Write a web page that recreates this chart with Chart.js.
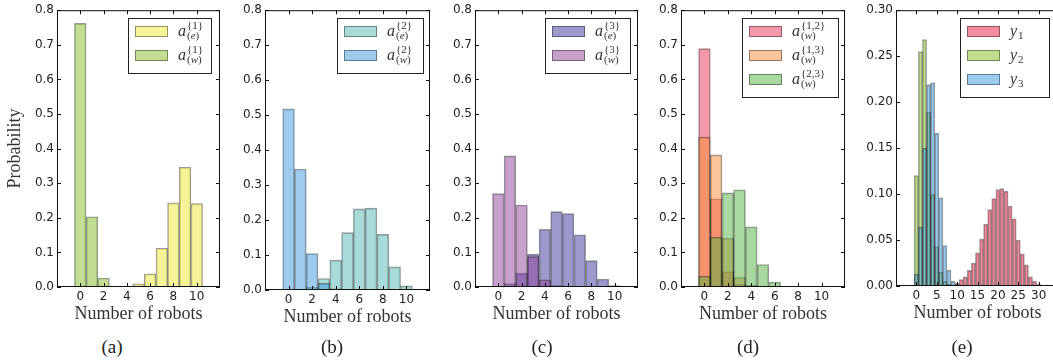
<!DOCTYPE html>
<html>
<head>
<meta charset="utf-8">
<script src="https://cdn.jsdelivr.net/npm/chart.js@4"></script>
<style>
  body { margin: 0; background: #fff; }
  #wrap { position: relative; width: 1053px; height: 364px; overflow: hidden; background: #fff; }
  .panel { position: absolute; top: 0; }
  .cap { position: absolute; top: 336px; line-height: 22px; font-family: 'Liberation Serif', serif; font-size: 19px; color: #222; transform: translateX(-50%); }
</style>
</head>
<body>
<div id="wrap"></div>
<script>
// number of robots (histogram bins)
var robots = [0, 1, 2, 3, 4, 5, 6, 7, 8, 9, 10];
var robotsE = [0, 1, 2, 3, 4, 5, 6, 7, 8, 9, 10, 11, 12, 13, 14, 15, 16, 17, 18, 19, 20,
               21, 22, 23, 24, 25, 26, 27, 28, 29, 30];

// (a)
var a1e = [0, 0, 0, 0.001, 0.002, 0.009, 0.038, 0.112, 0.243, 0.346, 0.241];
var a1w = [0.762, 0.203, 0.026, 0.003, 0.001, 0, 0, 0, 0, 0, 0];
// (b)
var a2e = [0, 0.001, 0.008, 0.033, 0.085, 0.164, 0.232, 0.234, 0.159, 0.066, 0.012];
var a2w = [0.518, 0.346, 0.104, 0.019, 0.003, 0.001, 0, 0, 0, 0, 0];
// (c)
var a3e = [0.001, 0.010, 0.040, 0.095, 0.167, 0.218, 0.212, 0.151, 0.076, 0.023, 0.004];
var a3w = [0.270, 0.379, 0.237, 0.088, 0.021, 0.004, 0, 0, 0, 0, 0];
// (d)
var a12w = [0.689, 0.255, 0.044, 0.008, 0.001, 0, 0, 0, 0, 0, 0];
var a13w = [0.433, 0.382, 0.141, 0.027, 0.005, 0.001, 0, 0, 0, 0, 0];
var a23w = [0.031, 0.144, 0.272, 0.281, 0.174, 0.065, 0.014, 0.002, 0.001, 0.001, 0.001];
// (e)
var y1 = [0, 0, 0, 0, 0, 0, 0, 0, 0, 0.001, 0.003, 0.007, 0.010, 0.017, 0.025, 0.036, 0.051,
          0.067, 0.083, 0.095, 0.105, 0.106, 0.103, 0.087, 0.073, 0.050, 0.035, 0.023, 0.010, 0.005, 0.002];
var y2 = [0.120, 0.255, 0.268, 0.189, 0.100, 0.043, 0.015, 0.005, 0.002, 0.001, 0, 0, 0, 0, 0, 0,
          0, 0, 0, 0, 0, 0, 0, 0, 0, 0, 0, 0, 0, 0, 0];
var y3 = [0.013, 0.064, 0.150, 0.219, 0.221, 0.166, 0.096, 0.044, 0.017, 0.005, 0.002, 0, 0, 0, 0, 0,
          0, 0, 0, 0, 0, 0, 0, 0, 0, 0, 0, 0, 0, 0, 0];

// tick labels
var xTicks10 = [0, 2, 4, 6, 8, 10];
var xTicks30 = [0, 5, 10, 15, 20, 25, 30];
var yTicks08 = [0, 0.1, 0.2, 0.3, 0.4, 0.5, 0.6, 0.7, 0.8];
var yTicks03 = [0, 0.05, 0.10, 0.15, 0.20, 0.25, 0.30];

var SERIF = '"Liberation Serif", "Times New Roman", serif';
var SANS = '"DejaVu Sans", sans-serif';
var EDGE = 'rgba(0,0,0,0.4)';

function sub(letter) { return [['(', 0], [letter, 1], [')', 0]]; }

var panels = [
  { cap: '(a)', capX: 112, left: 57, right: 220, top: 8, bottom: 287, yw: 57, ylabel: 'Probability',
    bins: robots, xMin: -2, xMax: 12, xTicks: xTicks10, yMax: 0.8, yTicks: yTicks08, dec: 1,
    legW: 83, legGap: 9,
    sets: [
      { values: a1e, color: 'rgba(240,232,50,0.5)', base: 'a', sup: [['{1}', 0]], sub: sub('e') },
      { values: a1w, color: 'rgba(135,189,37,0.5)', base: 'a', sup: [['{1}', 0]], sub: sub('w') }
    ] },
  { cap: '(b)', capX: 332, left: 265, right: 430, top: 8, bottom: 290, yw: 40,
    bins: robots, xMin: -2, xMax: 12, xTicks: xTicks10, yMax: 0.8, yTicks: yTicks08, dec: 1,
    legW: 86, legGap: 7,
    sets: [
      { values: a2e, color: 'rgba(83,185,179,0.5)', base: 'a', sup: [['{2}', 0]], sub: sub('e') },
      { values: a2w, color: 'rgba(59,153,223,0.5)', base: 'a', sup: [['{2}', 0]], sub: sub('w') }
    ] },
  { cap: '(c)', capX: 542, left: 475, right: 638, top: 8, bottom: 287, yw: 40,
    bins: robots, xMin: -2, xMax: 12, xTicks: xTicks10, yMax: 0.8, yTicks: yTicks08, dec: 1,
    legW: 85, legGap: 8,
    sets: [
      { values: a3e, color: 'rgba(57,53,155,0.5)', base: 'a', sup: [['{3}', 0]], sub: sub('e') },
      { values: a3w, color: 'rgba(143,65,153,0.5)', base: 'a', sup: [['{3}', 0]], sub: sub('w') }
    ] },
  { cap: '(d)', capX: 748, left: 681, right: 845, top: 8, bottom: 287, yw: 40,
    bins: robots, xMin: -2, xMax: 12, xTicks: xTicks10, yMax: 0.8, yTicks: yTicks08, dec: 1,
    legW: 96, legGap: 7,
    sets: [
      { values: a12w, color: 'rgba(235,51,85,0.5)', base: 'a', sup: [['{1,2}', 0]], sub: sub('w') },
      { values: a13w, color: 'rgba(249,139,53,0.5)', base: 'a', sup: [['{1,3}', 0]], sub: sub('w') },
      { values: a23w, color: 'rgba(83,177,67,0.5)', base: 'a', sup: [['{2,3}', 0]], sub: sub('w') }
    ] },
  { cap: '(e)', capX: 962, left: 896, right: 1059, top: 8, bottom: 286, yw: 40,
    bins: robotsE, xMin: -5, xMax: 35, xTicks: xTicks30, yMax: 0.3, yTicks: yTicks03, dec: 2,
    legW: 89, legGap: 10,
    sets: [
      { values: y1, color: 'rgba(230,25,62,0.5)', base: 'y', sub: [['1', 0]] },
      { values: y2, color: 'rgba(131,189,31,0.5)', base: 'y', sub: [['2', 0]] },
      { values: y3, color: 'rgba(57,155,225,0.5)', base: 'y', sub: [['3', 0]] }
    ] }
];

function drawRuns(ctx, x, y, runs, size) {
  runs.forEach(function (r) {
    ctx.font = (r[1] ? 'italic ' : '') + size + 'px ' + SERIF;
    ctx.fillText(r[0], x, y);
    x += ctx.measureText(r[0]).width;
  });
  return x;
}

// box, inward ticks and legend, matplotlib style
var framePlugin = {
  id: 'frame',
  afterDatasetsDraw: function (chart, args, opts) {
    var ctx = chart.ctx, a = chart.chartArea;
    var xs = chart.scales.x, ys = chart.scales.y;
    ctx.save();
    ctx.strokeStyle = '#111';
    ctx.lineWidth = 1;
    ctx.beginPath();
    xs.ticks.forEach(function (t) {
      var px = Math.round(xs.getPixelForValue(t.value)) + 0.5;
      ctx.moveTo(px, a.bottom); ctx.lineTo(px, a.bottom - 4);
      ctx.moveTo(px, a.top); ctx.lineTo(px, a.top + 4);
    });
    ys.ticks.forEach(function (t) {
      var py = Math.round(ys.getPixelForValue(t.value)) + 0.5;
      ctx.moveTo(a.left, py); ctx.lineTo(a.left + 4, py);
      ctx.moveTo(a.right, py); ctx.lineTo(a.right - 4, py);
    });
    ctx.stroke();
    ctx.strokeRect(a.left + 0.5, a.top + 0.5, a.right - a.left - 1, a.bottom - a.top - 1);

    // legend
    var p = opts.panel, n = p.sets.length;
    var L = Math.round(a.right - p.legGap - p.legW), T = Math.round(a.top + 8);
    var H = 7 + 24 * n;
    ctx.fillStyle = '#fff';
    ctx.fillRect(L, T, p.legW, H);
    ctx.strokeStyle = '#222';
    ctx.strokeRect(L + 0.5, T + 0.5, p.legW, H);
    ctx.textBaseline = 'alphabetic';
    p.sets.forEach(function (s, i) {
      var py = T + 8 + 24 * i, cy = py + 5.5;
      ctx.fillStyle = s.color;
      ctx.fillRect(L + 7, py, 33, 11);
      ctx.strokeStyle = EDGE;
      ctx.strokeRect(L + 7.5, py + 0.5, 32, 10);
      ctx.fillStyle = '#333';
      ctx.font = 'italic 16px ' + SERIF;
      ctx.fillText(s.base, L + 50, cy + 4);
      var sx = L + 50 + ctx.measureText(s.base).width + 1;
      if (s.sup) drawRuns(ctx, sx, cy - 3, s.sup, 11);
      if (s.sub) drawRuns(ctx, sx, cy + 7.5, s.sub, 11);
    });
    ctx.restore();
  }
};

var wrap = document.getElementById('wrap');

panels.forEach(function (p) {
  var pr = 12, xh = 40;
  var w = p.yw + (p.right - p.left) + pr, h = p.bottom + xh;
  var div = document.createElement('div');
  div.className = 'panel';
  div.style.left = (p.left - p.yw) + 'px';
  var cv = document.createElement('canvas');
  cv.width = w; cv.height = h;
  cv.style.width = w + 'px'; cv.style.height = h + 'px';
  div.appendChild(cv);
  wrap.appendChild(div);

  var cap = document.createElement('div');
  cap.className = 'cap';
  cap.style.left = p.capX + 'px';
  cap.textContent = p.cap;
  wrap.appendChild(cap);

  var n = p.sets.length;
  var datasets = p.sets.map(function (s, i) {
    return {
      data: p.bins.map(function (b, j) { return { x: b, y: s.values[j] }; }),
      backgroundColor: s.color,
      borderColor: EDGE,
      borderWidth: 1,
      barPercentage: 1,
      categoryPercentage: 1,
      grouped: false,
      order: n - i
    };
  });

  new Chart(cv, {
    type: 'bar',
    data: { datasets: datasets },
    options: {
      responsive: false,
      animation: false,
      devicePixelRatio: 1,
      layout: { padding: { top: p.top, right: pr, left: 0, bottom: 0 } },
      plugins: {
        legend: { display: false },
        tooltip: { enabled: false },
        frame: { panel: p }
      },
      scales: {
        x: {
          type: 'linear', min: p.xMin, max: p.xMax, offset: false,
          grid: { display: false, drawTicks: false },
          border: { display: false },
          afterBuildTicks: function (s) { s.ticks = p.xTicks.map(function (v) { return { value: v }; }); },
          afterFit: function (s) { s.height = xh; },
          ticks: { font: { family: SANS, size: 12 }, color: '#222', padding: 3, maxRotation: 0, autoSkip: false,
                   callback: function (v) { return String(v); } },
          title: { display: true, text: 'Number of robots', font: { family: SERIF, size: 18 }, color: '#333',
                   padding: { top: 0, bottom: 2 } }
        },
        y: {
          min: 0, max: p.yMax,
          grid: { display: false, drawTicks: false },
          border: { display: false },
          afterBuildTicks: function (s) { s.ticks = p.yTicks.map(function (v) { return { value: v }; }); },
          afterFit: function (s) { s.width = p.yw; },
          ticks: { font: { family: SANS, size: 12 }, color: '#222', padding: 3, autoSkip: false,
                   callback: function (v) { return v.toFixed(p.dec); } },
          title: { display: !!p.ylabel, text: p.ylabel || '', font: { family: SERIF, size: 18 }, color: '#333',
                   padding: { top: 4, bottom: 0 } }
        }
      }
    },
    plugins: [framePlugin]
  });
});
</script>
</body>
</html>
